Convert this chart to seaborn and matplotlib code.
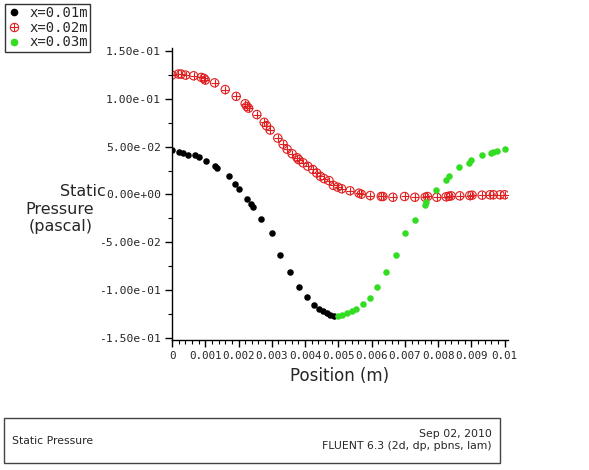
import matplotlib
matplotlib.use("Agg")
import matplotlib.pyplot as plt
import matplotlib.lines as mlines
from matplotlib.legend_handler import HandlerTuple
from matplotlib.ticker import FixedLocator, AutoMinorLocator, FuncFormatter
import pandas as pd
import seaborn as sns

sns.set_style("ticks")
plt.rcParams["font.family"] = ["DejaVu Sans"]

# ---- data ----
x1 = [0.0, 0.00021, 0.00034, 0.00049, 0.00068, 0.00081, 0.00103, 0.00130, 0.00136,
      0.00170, 0.00188, 0.00202, 0.00225, 0.00237, 0.00243, 0.00268, 0.00300, 0.00326,
      0.00356, 0.00382, 0.00407, 0.00428, 0.00443, 0.00455, 0.00465, 0.00475, 0.00487]
p1 = [0.0465, 0.0447, 0.0430, 0.0412, 0.0409, 0.0388, 0.0349, 0.0296, 0.0278,
      0.0190, 0.0113, 0.0060, -0.0045, -0.0103, -0.0134, -0.0257, -0.0402, -0.0627,
      -0.0814, -0.0962, -0.1075, -0.1152, -0.1195, -0.1219, -0.1237, -0.1255, -0.1265]

x2 = [0.0, 0.00019, 0.00027, 0.00041, 0.00065, 0.00088, 0.00096, 0.00100, 0.00128,
      0.00160, 0.00193, 0.00220, 0.00225, 0.00230, 0.00255, 0.00277, 0.00284, 0.00295,
      0.00318, 0.00334, 0.00346, 0.00361, 0.00376, 0.00381, 0.00394, 0.00408, 0.00423,
      0.00435, 0.00446, 0.00457, 0.00472, 0.00485, 0.00498, 0.00510, 0.00535, 0.00562,
      0.00569, 0.00596, 0.00629, 0.00634, 0.00664, 0.00699, 0.00730, 0.00761, 0.00768,
      0.00796, 0.00824, 0.00832, 0.00839, 0.00865, 0.00895, 0.00902, 0.00932, 0.00956,
      0.00966, 0.00986, 0.01000]
p2 = [0.1247, 0.1258, 0.1258, 0.1247, 0.1240, 0.1223, 0.1213, 0.1195, 0.1166,
      0.1096, 0.1025, 0.0948, 0.0920, 0.0902, 0.0835, 0.0754, 0.0719, 0.0673,
      0.0589, 0.0525, 0.0473, 0.0426, 0.0384, 0.0363, 0.0331, 0.0296, 0.0261,
      0.0225, 0.0190, 0.0166, 0.0145, 0.0095, 0.0077, 0.0060, 0.0039, 0.0014,
      0.0003, -0.0011, -0.0021, -0.0021, -0.0029, -0.0021, -0.0029, -0.0029, -0.0021,
      -0.0029, -0.0024, -0.0018, -0.0014, -0.0014, -0.0011, -0.0007, -0.0007, -0.0003,
      -0.0003, -0.0003, -0.0003]

x3 = [0.00500, 0.00510, 0.00525, 0.00540, 0.00554, 0.00574, 0.00594, 0.00617, 0.00644,
      0.00674, 0.00699, 0.00731, 0.00761, 0.00765, 0.00795, 0.00824, 0.00832, 0.00864,
      0.00892, 0.00900, 0.00932, 0.00958, 0.00966, 0.00976, 0.01000]
p3 = [-0.1268, -0.1255, -0.1240, -0.1219, -0.1191, -0.1149, -0.1078, -0.0962, -0.0814,
      -0.0627, -0.0402, -0.0264, -0.0109, -0.0074, 0.0050, 0.0155, 0.0190, 0.0285,
      0.0331, 0.0356, 0.0412, 0.0437, 0.0447, 0.0455, 0.0473]

labels = ["x=0.01m", "x=0.02m", "x=0.03m"]
x_ticks = [0, 0.001, 0.002, 0.003, 0.004, 0.005, 0.006, 0.007, 0.008, 0.009, 0.01]
x_tick_labels = ["0", "0.001", "0.002", "0.003", "0.004", "0.005", "0.006",
                 "0.007", "0.008", "0.009", "0.01"]
y_ticks = [-0.15, -0.10, -0.05, 0.0, 0.05, 0.10, 0.15]

df1 = pd.DataFrame({"x": x1, "p": p1})
df2 = pd.DataFrame({"x": x2, "p": p2})
df3 = pd.DataFrame({"x": x3, "p": p3})

BLACK = "#000000"
RED = "#e02020"
GREEN = "#33dd22"

fig = plt.figure(figsize=(5.89, 4.70), dpi=100)
ax = fig.add_axes([172 / 589, 1 - 340 / 470, (508 - 172) / 589, (340 - 48) / 470])

# x=0.02m: hollow circle with a plus inside
sns.scatterplot(data=df2, x="x", y="p", ax=ax, marker="o", s=36,
                facecolor="none", edgecolor=RED, linewidth=0.8, zorder=2)
sns.scatterplot(data=df2, x="x", y="p", ax=ax, marker="+", s=30,
                color=RED, linewidth=0.8, zorder=2)
sns.scatterplot(data=df1, x="x", y="p", ax=ax, marker="o", s=22,
                color=BLACK, edgecolor=BLACK, linewidth=0, zorder=3)
sns.scatterplot(data=df3, x="x", y="p", ax=ax, marker="o", s=22,
                color=GREEN, edgecolor=GREEN, linewidth=0, zorder=3)

ax.set_xlim(0, 0.0101)
ax.set_ylim(-0.152, 0.153)
ax.xaxis.set_major_locator(FixedLocator(x_ticks))
ax.set_xticklabels(x_tick_labels)
ax.xaxis.set_minor_locator(AutoMinorLocator(5))
ax.yaxis.set_major_locator(FixedLocator(y_ticks))
ax.yaxis.set_major_formatter(FuncFormatter(lambda v, _: f"{v:.2e}".replace("-0.00", "0.00")))
ax.yaxis.set_minor_locator(AutoMinorLocator(2))

mono = "DejaVu Sans Mono"
for t in ax.get_xticklabels():
    t.set_family(mono)
    t.set_fontsize(7.8)
for t in ax.get_yticklabels():
    t.set_family(mono)
    t.set_fontsize(8.2)
ax.tick_params(which="major", direction="out", length=5, width=1, color="black", pad=3)
ax.tick_params(which="minor", direction="out", length=3, width=0.8, color="black")
ax.set_xlabel("Position (m)", fontsize=12, labelpad=4)
ax.set_ylabel("")
sns.despine(ax=ax)
for s in ("left", "bottom"):
    ax.spines[s].set_color("black")
    ax.spines[s].set_linewidth(1)

# y label split as in the original
fig.text(106 / 589, 1 - 191 / 470, "Static", ha="right", va="center", fontsize=11.5)
fig.text(60 / 589, 1 - 209 / 470, "Pressure", ha="center", va="center", fontsize=11.5)
fig.text(61 / 589, 1 - 227 / 470, "(pascal)", ha="center", va="center", fontsize=11.5)

# legend
h1 = mlines.Line2D([], [], linestyle="none", marker="o", markersize=4.5, color=BLACK)
h2a = mlines.Line2D([], [], linestyle="none", marker="o", markersize=6,
                    markerfacecolor="none", markeredgecolor=RED, markeredgewidth=0.8)
h2b = mlines.Line2D([], [], linestyle="none", marker="+", markersize=5.5,
                    color=RED, markeredgewidth=0.8)
h3 = mlines.Line2D([], [], linestyle="none", marker="o", markersize=4.5, color=GREEN)
leg = fig.legend([h1, (h2a, h2b), h3], labels,
                 handler_map={tuple: HandlerTuple(ndivide=1, pad=0)},
                 loc="upper left", bbox_to_anchor=(5 / 589, 1 - 4 / 470),
                 prop={"family": mono, "size": 10}, frameon=True, fancybox=False,
                 edgecolor="black", borderpad=0.15, labelspacing=0.05,
                 handlelength=1.0, handletextpad=0.6, borderaxespad=0)
leg.get_frame().set_linewidth(1.0)

# footer box
fig.patches.append(plt.Rectangle((4 / 589, 1 - 463 / 470), (500 - 4) / 589, (463 - 418) / 470,
                                 transform=fig.transFigure, fill=False,
                                 edgecolor="#444444", linewidth=1.0))
fig.text(12 / 589, 1 - 441 / 470, "Static Pressure", ha="left", va="center", fontsize=7.8)
fig.text(492 / 589, 1 - 434 / 470, "Sep 02, 2010", ha="right", va="center", fontsize=7.8)
fig.text(492 / 589, 1 - 446 / 470, "FLUENT 6.3 (2d, dp, pbns, lam)", ha="right",
         va="center", fontsize=7.8)

fig.savefig("out.png", dpi=100)
